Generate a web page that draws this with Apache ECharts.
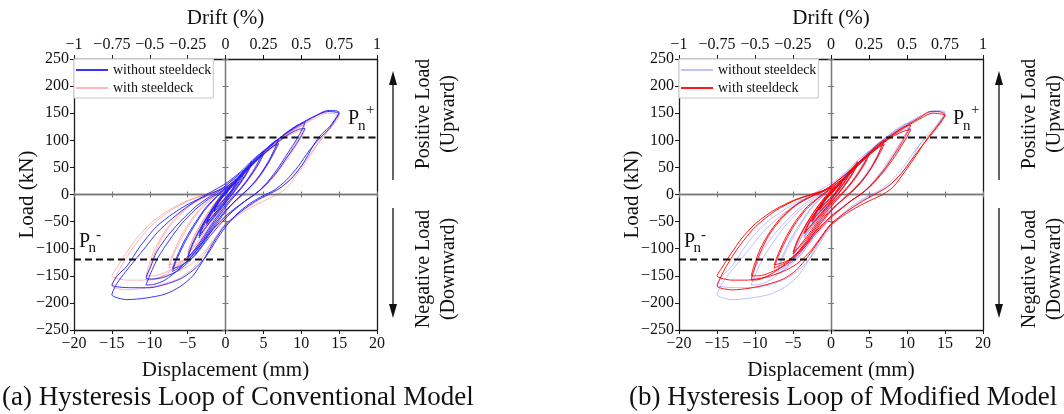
<!DOCTYPE html>
<html><head><meta charset="utf-8">
<script src="https://cdn.jsdelivr.net/npm/echarts@6/dist/echarts.min.js"></script>
<style>html,body{margin:0;padding:0;background:#fff}#c{width:1064px;height:414px}</style>
</head><body><div id="c"></div>
<script>
// ---------------- data ----------------
const dispMin = -20, dispMax = 20, dispStep = 5;
const driftMin = -1, driftMax = 1, driftStep = 0.25;
const loadMin = -250, loadMax = 250, loadStep = 50;
const pnPlus = 105;     // kN, positive nominal strength
const pnMinus = -120;   // kN, negative nominal strength
const captions = ['(a) Hysteresis Loop of Conventional Model', '(b) Hysteresis Loop of Modified Model'];
const seriesNames = ['without steeldeck', 'with steeldeck'];
const annotationTexts = ['Positive Load\n(Upward)', 'Negative Load\n(Downward)'];

// without steeldeck: cycles of [displacement mm, load kN]
const withoutSteeldeck = [
  [[0,0],[0.8,16],[1.5,27],[1.3,20],[0.8,8],[0.3,-2],[-0.5,-15],[-1.0,-24],[-1.5,-32],[-1.3,-24],[-0.8,-13],[-0.3,-4],[0,1]],
  [[0.8,15],[1.5,25],[1.3,18],[0.6,4],[0,-6],[-0.8,-18],[-1.5,-30],[-1.2,-20],[-0.6,-8],[0,0]],
  [[1.2,22],[2.0,37],[2.5,45],[2.2,36],[1.5,20],[0.8,5],[0,-10],[-1.0,-28],[-2.0,-45],[-2.5,-55],[-2.2,-44],[-1.5,-28],[-0.8,-12],[0,2]],
  [[1.2,20],[2.0,34],[2.5,42],[2.2,32],[1.4,16],[0.6,1],[0,-12],[-1.2,-32],[-2.5,-52],[-2.1,-40],[-1.3,-22],[-0.5,-6],[0,3]],
  [[1.2,22],[2.5,45],[3.5,62],[3.2,52],[2.5,34],[1.4,12],[0,-14],[-1.5,-40],[-2.8,-65],[-3.5,-80],[-3.1,-64],[-2.2,-42],[-1.1,-18],[0,4]],
  [[1.4,24],[2.6,44],[3.5,58],[3.1,46],[2.3,28],[1.2,6],[0,-16],[-1.5,-42],[-2.8,-64],[-3.5,-76],[-3.0,-58],[-2.0,-35],[-0.9,-12],[0,5]],
  [[1.5,28],[3.0,52],[4.2,70],[5,80],[4.6,68],[4,52],[3.2,34],[2.2,15],[1.1,-2],[0,-20],[-1.5,-48],[-3.0,-80],[-4.2,-104],[-5,-118],[-4.5,-98],[-3.6,-72],[-2.5,-44],[-1.2,-16],[0,6]],
  [[1.5,27],[3.0,50],[4.2,66],[5,74],[4.5,60],[3.8,44],[3,28],[2,10],[0.9,-8],[0,-24],[-1.5,-52],[-3.0,-84],[-4.2,-106],[-5,-115],[-4.4,-92],[-3.4,-64],[-2.2,-36],[-1.0,-10],[0,8]],
  [[1.5,26],[3.2,52],[4.8,76],[6.2,95],[7,102],[6.6,88],[6,70],[5.1,48],[4,26],[2.8,8],[1.4,-10],[0,-30],[-1.5,-56],[-3.0,-88],[-4.5,-115],[-6,-134],[-7,-142],[-6.5,-122],[-5.5,-92],[-4.2,-60],[-2.8,-30],[-1.4,-8],[0,10]],
  [[1.5,25],[3.2,50],[4.8,72],[6.2,88],[7,94],[6.5,80],[5.8,62],[4.9,42],[3.8,22],[2.6,5],[1.2,-13],[0,-32],[-1.5,-60],[-3,-92],[-4.5,-118],[-6,-132],[-7,-137],[-6.4,-114],[-5.3,-82],[-4.0,-52],[-2.6,-24],[-1.2,-4],[0,12]],
  [[2,36],[4,64],[6,90],[8,114],[9.5,128],[10.5,133],[10.1,120],[9.4,102],[8.3,78],[7,50],[5.6,24],[4.2,4],[2.8,-10],[1.4,-24],[0,-40],[-2,-70],[-4,-106],[-6,-136],[-8,-158],[-9.5,-166],[-10.5,-167],[-9.9,-146],[-8.9,-116],[-7.4,-84],[-5.8,-54],[-4.0,-28],[-2.3,-9],[-1,2],[0,12]],
  [[2,34],[4,62],[6,86],[8,108],[9.6,120],[10.5,122],[10,108],[9.2,90],[8,66],[6.7,40],[5.2,16],[3.8,0],[2.4,-14],[1.2,-28],[0,-44],[-2,-76],[-4,-112],[-6,-138],[-8,-152],[-9.5,-156],[-10.5,-154],[-9.9,-134],[-9.1,-106],[-7.5,-74],[-5.7,-46],[-3.9,-22],[-2.2,-5],[-0.9,6],[0,16]],
  [[2,40],[4,64],[6,90],[8,112],[10,130],[12,146],[13.5,155],[14.3,155],[15,152],[14.6,142],[13.8,126],[12.4,107],[11.5,88],[10.2,56],[8.6,28],[7,10],[5.6,0],[4,-12],[2,-32],[0,-56],[-1.5,-86],[-2.8,-118],[-4.3,-150],[-6,-170],[-8,-184],[-10.5,-191],[-13,-194],[-15,-185],[-14.5,-168],[-13.5,-148],[-12,-122],[-10.5,-96],[-9,-70],[-7,-44],[-5,-22],[-3,-4],[-1.5,8],[0,20]],
  [[2,42],[3.6,64],[5.5,86],[7.5,108],[9.8,130],[12,146],[13.5,153],[15,150],[14.5,138],[13.6,120],[12.2,100],[11,80],[9.6,52],[8,26],[6.4,8],[5,-2],[3.5,-14],[1.8,-32],[0,-60],[-1.2,-84],[-2.6,-115],[-4.3,-140],[-6,-156],[-8,-166],[-10,-172],[-12.5,-172],[-15,-167],[-14.3,-150],[-13,-132],[-11.3,-96],[-9.1,-59],[-6.9,-35],[-4.7,-16],[-2.5,-2],[0,14]]
];

// with steeldeck: cycles of [displacement mm, load kN]
const withSteeldeck = [
  [[0,0],[0.8,15],[1.5,26],[1.3,19],[0.7,6],[0.2,-3],[-0.6,-14],[-1.5,-28],[-1.3,-20],[-0.7,-9],[0,1]],
  [[0.8,14],[1.5,24],[1.2,16],[0.5,2],[-0.2,-8],[-0.9,-17],[-1.5,-27],[-1.1,-17],[-0.5,-6],[0,1]],
  [[1.2,20],[2.0,34],[2.5,43],[2.2,34],[1.5,18],[0.7,3],[0,-9],[-1,-25],[-2,-40],[-2.5,-50],[-2.1,-38],[-1.3,-20],[-0.5,-5],[0,2]],
  [[1.2,19],[2.0,32],[2.5,40],[2.1,29],[1.3,13],[0.5,0],[0,-10],[-1.2,-29],[-2.5,-48],[-2.0,-34],[-1.2,-17],[-0.4,-4],[0,3]],
  [[1.3,22],[2.5,42],[3.5,60],[3.2,50],[2.5,32],[1.4,10],[0,-14],[-1.5,-38],[-2.8,-60],[-3.5,-72],[-3.0,-56],[-2.1,-35],[-1.0,-13],[0,4]],
  [[1.4,23],[2.6,42],[3.5,56],[3.1,44],[2.3,26],[1.2,5],[0,-15],[-1.5,-40],[-2.8,-60],[-3.5,-70],[-2.9,-51],[-1.9,-30],[-0.9,-10],[0,5]],
  [[1.5,27],[3,50],[4.2,67],[5,76],[4.6,64],[4,49],[3.2,32],[2.2,14],[1.1,-2],[0,-18],[-1.5,-44],[-3,-74],[-4.2,-96],[-5,-110],[-4.5,-90],[-3.6,-64],[-2.5,-38],[-1.2,-13],[0,6]],
  [[1.5,26],[3,48],[4.2,64],[5,72],[4.5,58],[3.8,42],[3,26],[2,9],[0.9,-8],[0,-22],[-1.5,-48],[-3,-78],[-4.2,-98],[-5,-106],[-4.4,-84],[-3.4,-58],[-2.2,-31],[-1,-8],[0,8]],
  [[1.5,25],[3.2,50],[4.8,74],[6.2,93],[7,100],[6.6,86],[6,68],[5.2,47],[4.1,26],[2.9,8],[1.5,-10],[0,-28],[-1.5,-52],[-3,-82],[-4.5,-108],[-6,-126],[-7.5,-136],[-7,-116],[-6,-86],[-4.8,-56],[-3.3,-28],[-1.6,-6],[0,10]],
  [[1.5,24],[3.2,48],[4.8,70],[6.2,86],[7,92],[6.5,78],[5.8,60],[4.9,40],[3.9,21],[2.7,4],[1.3,-13],[0,-30],[-1.5,-56],[-3,-86],[-4.5,-110],[-6,-124],[-7.5,-130],[-6.9,-108],[-5.9,-78],[-4.6,-48],[-3.1,-22],[-1.4,-3],[0,12]],
  [[2,34],[4,62],[6,88],[8,110],[9.5,124],[10.5,128],[10.1,116],[9.4,98],[8.4,76],[7.2,50],[5.8,26],[4.4,6],[3,-8],[1.5,-24],[0,-40],[-2,-68],[-4,-102],[-6,-128],[-8,-148],[-9.5,-157],[-10.5,-158],[-10.1,-138],[-9.4,-110],[-8.2,-76],[-6.6,-46],[-4.6,-20],[-2.6,-4],[-1.2,4],[0,14]],
  [[2,33],[4,60],[6,85],[8,106],[9.6,117],[10.5,120],[10,106],[9.2,88],[8.1,64],[6.8,40],[5.4,18],[4,1],[2.6,-12],[1.3,-27],[0,-42],[-2,-72],[-4,-106],[-6,-130],[-8,-144],[-9.5,-150],[-10.5,-150],[-10.1,-130],[-9.3,-100],[-8,-68],[-6.4,-40],[-4.4,-17],[-2.4,-2],[-1,7],[0,16]],
  [[2,38],[4,62],[6,88],[8,110],[10,128],[11.8,143],[13,153],[14.2,153],[15,147],[14.5,136],[13.9,125],[12.5,100],[11.2,72],[9.6,40],[8.2,14],[6.8,0],[5,-12],[2.6,-30],[0,-56],[-1.5,-84],[-3,-114],[-4.6,-140],[-6.3,-156],[-8.4,-166],[-10.8,-173],[-12.9,-176],[-15,-169],[-14.5,-152],[-13.8,-133],[-12.1,-96],[-9.9,-59],[-7.2,-29],[-4.6,-10],[-2.5,0],[-1.2,6],[0,16]],
  [[2,38],[3.8,60],[5.8,84],[7.8,106],[10,126],[12,142],[13.3,150],[15,146],[14.4,132],[13.4,114],[12,90],[10.6,64],[9.2,38],[7.6,16],[6,2],[4.2,-12],[2,-32],[0,-54],[-1.2,-76],[-2.8,-106],[-4.5,-128],[-6.3,-142],[-8.5,-152],[-11,-158],[-13,-158],[-15,-150],[-14.3,-134],[-13.2,-110],[-11.7,-80],[-9.8,-52],[-7.4,-28],[-4.8,-10],[-2.2,2],[0,12]]
];

// ---------------- chart ----------------
const FONT = "'Liberation Serif', 'Times New Roman', serif";
const fmt = v => String(v).replace('-', '\u2212');
const grids = [
  {left: 74, top: 59, width: 303, height: 271},
  {left: 679, top: 59, width: 304, height: 271}
];
const FRAME = '#1a1a1a', ZERO = '#7a7a7a';
const xAxis = [], yAxis = [], series = [], legend = [], graphic = [];

const panelStyles = [
  {without: {color: '#1f1fff', opacity: 0.9}, with: {color: '#ff3030', opacity: 0.35}, order: ['with', 'without']},
  {without: {color: '#3030ff', opacity: 0.3}, with: {color: '#ff0000', opacity: 0.9}, order: ['without', 'with']}
];

grids.forEach((g, p) => {
  const xb = p * 4, yb = p * 4;
  const lbl = {fontFamily: FONT, fontSize: 16, color: '#111', formatter: fmt, hideOverlap: false, showMinLabel: true, showMaxLabel: true};
  const nameStyle = {fontFamily: FONT, fontSize: 21, color: '#111'};
  xAxis.push(
    {gridIndex: p, type: 'value', min: dispMin, max: dispMax, interval: dispStep, position: 'bottom',
      axisLine: {onZero: false, lineStyle: {color: FRAME, width: 1.3}}, axisTick: {length: 4, lineStyle: {color: FRAME}},
      axisLabel: Object.assign({margin: 6}, lbl), splitLine: {show: false},
      name: 'Displacement (mm)', nameLocation: 'middle', nameGap: 30, nameTextStyle: nameStyle},
    {gridIndex: p, type: 'value', min: driftMin, max: driftMax, interval: driftStep, position: 'top',
      axisLine: {onZero: false, lineStyle: {color: FRAME, width: 1.3}}, axisTick: {length: 4, lineStyle: {color: FRAME}},
      axisLabel: Object.assign({margin: 6}, lbl), splitLine: {show: false},
      name: 'Drift (%)', nameLocation: 'middle', nameGap: 30, nameTextStyle: nameStyle},
    {gridIndex: p, type: 'value', min: dispMin, max: dispMax, interval: dispStep, position: 'bottom',
      axisLine: {onZero: true, onZeroAxisIndex: yb, lineStyle: {color: ZERO, width: 1.3}},
      axisTick: {inside: true, length: 3, lineStyle: {color: ZERO}}, axisLabel: {show: false}, splitLine: {show: false}},
    {gridIndex: p, type: 'value', min: dispMin, max: dispMax, interval: dispStep, position: 'bottom',
      axisLine: {onZero: true, onZeroAxisIndex: yb, lineStyle: {color: ZERO, width: 1.3}},
      axisTick: {inside: false, length: 3, lineStyle: {color: ZERO}}, axisLabel: {show: false}, splitLine: {show: false}}
  );
  yAxis.push(
    {gridIndex: p, type: 'value', min: loadMin, max: loadMax, interval: loadStep, position: 'left',
      axisLine: {onZero: false, lineStyle: {color: FRAME, width: 1.3}}, axisTick: {length: 4, lineStyle: {color: FRAME}},
      axisLabel: Object.assign({margin: 5}, lbl), splitLine: {show: false},
      name: 'Load (kN)', nameLocation: 'middle', nameGap: 36, nameRotate: 90, nameMoveOverlap: false, nameTextStyle: nameStyle},
    {gridIndex: p, type: 'value', min: loadMin, max: loadMax, interval: loadStep, position: 'right',
      axisLine: {onZero: false, lineStyle: {color: FRAME, width: 1.3}}, axisTick: {show: false}, axisLabel: {show: false}, splitLine: {show: false}},
    {gridIndex: p, type: 'value', min: loadMin, max: loadMax, interval: loadStep, position: 'left',
      axisLine: {onZero: true, onZeroAxisIndex: xb, lineStyle: {color: ZERO, width: 1.3}},
      axisTick: {inside: true, length: 3, lineStyle: {color: ZERO}}, axisLabel: {show: false}, splitLine: {show: false}},
    {gridIndex: p, type: 'value', min: loadMin, max: loadMax, interval: loadStep, position: 'left',
      axisLine: {onZero: true, onZeroAxisIndex: xb, lineStyle: {color: ZERO, width: 1.3}},
      axisTick: {inside: false, length: 3, lineStyle: {color: ZERO}}, axisLabel: {show: false}, splitLine: {show: false}}
  );

  const suffix = p === 0 ? '' : ' (b)';
  const st = panelStyles[p];
  const dataFor = {without: withoutSteeldeck.flat(), with: withSteeldeck.flat()};
  const nameFor = {without: seriesNames[0] + suffix, with: seriesNames[1] + suffix};
  st.order.forEach((k, i) => {
    series.push({type: 'line', name: nameFor[k], xAxisIndex: xb, yAxisIndex: yb, data: dataFor[k],
      symbol: 'none', smooth: 0.25, silent: true, z: 2 + i,
      lineStyle: {color: st[k].color, width: 1, opacity: st[k].opacity},
      itemStyle: {color: st[k].color, opacity: st[k].opacity}});
  });
  series.push(
    {type: 'line', xAxisIndex: xb, yAxisIndex: yb, data: [[0, pnPlus], [dispMax, pnPlus]], symbol: 'none', silent: true, z: 5,
      lineStyle: {color: '#111', width: 2, type: [7, 4]}},
    {type: 'line', xAxisIndex: xb, yAxisIndex: yb, data: [[dispMin, pnMinus], [0, pnMinus]], symbol: 'none', silent: true, z: 5,
      lineStyle: {color: '#111', width: 2, type: [7, 4]}}
  );
  legend.push({data: [nameFor.without, nameFor.with], left: g.left, top: g.top, orient: 'vertical',
    itemWidth: 32, itemHeight: 14, itemGap: 4, padding: [4, 2, 3, 1], borderColor: '#c8c8c8', borderWidth: 1,
    backgroundColor: '#fff', selectedMode: false,
    itemStyle: {opacity: 0},
    formatter: n => '{t|' + n.replace(' (b)', '') + '}',
    textStyle: {fontFamily: FONT, fontSize: 14, color: '#111',
      rich: {t: {fontFamily: FONT, fontSize: 14, color: '#111'}}}});

  // annotations
  const right = g.left + g.width, ox = g.left - 74;
  const aX = right + 16;
  graphic.push(
    {type: 'line', shape: {x1: aX, y1: 180, x2: aX, y2: 82}, style: {stroke: '#111', lineWidth: 1.3}},
    {type: 'polygon', shape: {points: [[aX, 71], [aX - 4, 85], [aX + 4, 85]]}, style: {fill: '#111'}},
    {type: 'line', shape: {x1: aX, y1: 208, x2: aX, y2: 306}, style: {stroke: '#111', lineWidth: 1.3}},
    {type: 'polygon', shape: {points: [[aX, 318], [aX - 4, 304], [aX + 4, 304]]}, style: {fill: '#111'}},
    {type: 'text', x: right + 59, y: 114, rotation: Math.PI / 2,
      style: {text: annotationTexts[0], font: '20px ' + FONT, fill: '#111', align: 'center', verticalAlign: 'middle', lineHeight: 25}},
    {type: 'text', x: right + 59, y: 269, rotation: Math.PI / 2,
      style: {text: annotationTexts[1], font: '20px ' + FONT, fill: '#111', align: 'center', verticalAlign: 'middle', lineHeight: 25}},
    {type: 'text', x: 348 + ox, y: 119, style: {text: 'P', font: '20px ' + FONT, fill: '#111', verticalAlign: 'middle'}},
    {type: 'text', x: 358 + ox, y: 126, style: {text: 'n', font: '15px ' + FONT, fill: '#111', verticalAlign: 'middle'}},
    {type: 'text', x: 366 + ox, y: 110, style: {text: '+', font: '15px ' + FONT, fill: '#111', verticalAlign: 'middle'}},
    {type: 'text', x: 79 + ox, y: 242, style: {text: 'P', font: '20px ' + FONT, fill: '#111', verticalAlign: 'middle'}},
    {type: 'text', x: 88.5 + ox, y: 248, style: {text: 'n', font: '15px ' + FONT, fill: '#111', verticalAlign: 'middle'}},
    {type: 'text', x: 96 + ox, y: 235, style: {text: '-', font: '15px ' + FONT, fill: '#111', verticalAlign: 'middle'}},
    {type: 'text', x: p === 0 ? 2 : 629, y: 398, style: {text: captions[p], font: '27px ' + FONT, fill: '#111', verticalAlign: 'middle'}}
  );
});

const chart = echarts.init(document.getElementById('c'), null, {renderer: 'canvas'});
chart.setOption({
  animation: false,
  backgroundColor: '#fff',
  textStyle: {fontFamily: FONT},
  grid: grids,
  xAxis, yAxis, series, legend, graphic
});
</script></body></html>
